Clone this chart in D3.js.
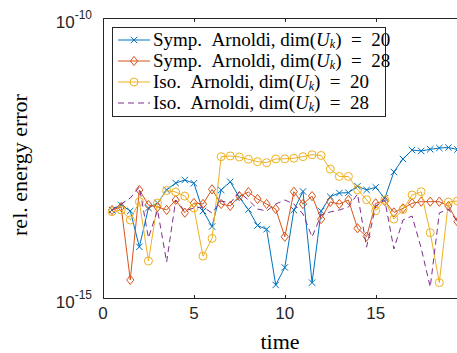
<!DOCTYPE html>
<html>
<head>
<meta charset="utf-8">
<script src="https://cdn.jsdelivr.net/npm/d3@7"></script>
<style>
  html, body { margin: 0; padding: 0; background: #fff; }
  svg { display: block; }
  .sans { font-family: 'Liberation Sans', Arial, Helvetica, sans-serif; }
  .serif { font-family: 'Liberation Serif', 'Times New Roman', 'DejaVu Serif', serif; }
</style>
</head>
<body>
<svg id="chart" width="457" height="353"></svg>
<script>
// Sample times
const time = [0.5, 1, 1.5, 2, 2.5, 3, 3.5, 4, 4.5, 5, 5.5, 6, 6.5, 7, 7.5, 8, 8.5, 9, 9.5, 10,
              10.5, 11, 11.5, 12, 12.5, 13, 13.5, 14, 14.5, 15, 15.5, 16, 16.5, 17, 17.5, 18, 18.5, 19, 19.5];

// Relative energy error per method
const sympArnoldi20 = [3.73e-14, 4.58e-14, 3.58e-14, 8.2e-15, 4.05e-14, 4.97e-14, 8.5e-14, 1.13e-13, 1.28e-13, 1.12e-13,
                       3.58e-14, 1.89e-14, 8.5e-14, 1.19e-13, 6.24e-14, 3.80e-14, 1.97e-14, 1.69e-14, 1.71e-15, 3.51e-15,
                       3.73e-14, 8.0e-14, 1.88e-15, 3.58e-14, 6.44e-14, 7.5e-14, 7.6e-14, 9.9e-14, 8.5e-14, 9.5e-14,
                       6.03e-14, 1.78e-13, 3.04e-13, 4.39e-13, 4.22e-13, 4.52e-13, 4.77e-13, 4.86e-13, 4.48e-13];
const sympArnoldi28 = [3.73e-14, 4.22e-14, 2.10e-15, 8.5e-14, 4.58e-14, 4.22e-14, 3.73e-14, 5.62e-14, 3.34e-14, 4.97e-14,
                       4.77e-14, 8.7e-14, 4.77e-14, 4.40e-14, 6.6e-14, 7.8e-14, 5.86e-14, 4.77e-14, 3.88e-14, 1.24e-14,
                       7.9e-14, 4.77e-14, 6.6e-14, 2.57e-14, 5.18e-14, 4.77e-14, 5.62e-14, 1.76e-14, 1.25e-14, 4.91e-14,
                       5.40e-14, 3.37e-14, 4.00e-14, 4.91e-14, 5.25e-14, 5.25e-14, 5.25e-14, 4.40e-14, 2.30e-14];
const isoArnoldi20  = [3.48e-14, 3.73e-14, 2.47e-14, 5.25e-14, 4.58e-15, 4.97e-14, 8.3e-14, 7.8e-14, 6.6e-14, 4.05e-14,
                       5.6e-15, 1.16e-14, 3.34e-13, 3.44e-13, 3.30e-13, 3.00e-13, 2.72e-13, 2.61e-13, 3.04e-13, 3.06e-13,
                       3.13e-13, 3.34e-13, 3.62e-13, 3.51e-13, 2.01e-13, 1.48e-13, 1.48e-13, 8.6e-14, 5.69e-14, 3.62e-14,
                       5.62e-14, 2.57e-14, 3.80e-14, 6.9e-14, 7.9e-14, 1.47e-14, 1.88e-15, 5.18e-14, 5.40e-14];
const isoArnoldi28  = [3.73e-14, 4.77e-14, 6.1e-14, 9.6e-14, 1.18e-14, 3.73e-14, 4.40e-15, 5.62e-14, 3.58e-14, 4.05e-14,
                       4.22e-14, 3.30e-14, 5.40e-14, 4.97e-14, 7.8e-14, 5.62e-14, 3.88e-14, 3.58e-14, 4.77e-14, 5.62e-14,
                       4.77e-14, 3.16e-14, 1.23e-14, 3.03e-14, 3.44e-14, 3.73e-14, 4.22e-14, 7.2e-14, 8.1e-15, 4.40e-14,
                       5.62e-14, 7.5e-15, 2.47e-14, 2.91e-14, 7.8e-15, 1.57e-15, 3.30e-14, 3.88e-14, 2.28e-14];

const xTicks = [0, 5, 10, 15];
const yTicks = [1e-15, 1e-10];
const yTickExponents = ["-15", "-10"];
const seriesNames = ["Symp.\u00a0\u00a0Arnoldi, dim(", "Symp.\u00a0\u00a0Arnoldi, dim(", "Iso.\u00a0\u00a0Arnoldi, dim(", "Iso.\u00a0\u00a0Arnoldi, dim("];
const seriesDims = ["20", "28", "20", "28"];

(function () {
  const series = [
    { values: sympArnoldi20, color: "#0072BD", marker: "x", dash: null },
    { values: sympArnoldi28, color: "#D95319", marker: "diamond", dash: null },
    { values: isoArnoldi20,  color: "#EDB120", marker: "circle", dash: null },
    { values: isoArnoldi28,  color: "#7E2F8E", marker: null, dash: "6,4" }
  ];

  const svg = d3.select("#chart");
  const L = 103, R = 457.5, T = 18, B = 298;
  const axisColor = "#262626";

  const x = d3.scaleLinear().domain([0, 19.5]).range([L, R]);
  const y = d3.scaleLog().domain([1e-15, 1e-10]).range([B, T]);

  // Frame
  svg.append("path")
    .attr("d", `M${L + 0.5},${T + 0.5}H${R}V${B + 0.5}H${L + 0.5}Z`)
    .attr("fill", "none").attr("stroke", axisColor).attr("stroke-width", 1);

  // Inward ticks on bottom and top
  const tickLen = 3.5;
  xTicks.forEach(t => {
    const px = Math.round(x(t)) + 0.5;
    svg.append("line").attr("x1", px).attr("x2", px).attr("y1", B + 0.5).attr("y2", B + 0.5 - tickLen)
      .attr("stroke", axisColor);
    svg.append("line").attr("x1", px).attr("x2", px).attr("y1", T + 0.5).attr("y2", T + 0.5 + tickLen)
      .attr("stroke", axisColor);
    svg.append("text").attr("class", "sans").attr("x", x(t)).attr("y", 319)
      .attr("text-anchor", "middle").style("font-size", "17px")
      .attr("fill", axisColor).text(t);
  });

  yTicks.forEach((v, i) => {
    const py = Math.round(y(v)) + 0.5;
    svg.append("line").attr("x1", L + 0.5).attr("x2", L + 0.5 + tickLen).attr("y1", py).attr("y2", py)
      .attr("stroke", axisColor);
    const t = svg.append("text").attr("class", "sans").attr("x", 92).attr("y", y(v) + 9.5)
      .attr("text-anchor", "end").style("font-size", "17px")
      .attr("fill", axisColor);
    t.append("tspan").text("10");
    t.append("tspan").attr("dy", -9).style("font-size", "12px").text(yTickExponents[i]);
  });

  // Axis labels
  svg.append("text").attr("class", "serif")
    .attr("transform", `translate(27,165) rotate(-90)`)
    .attr("text-anchor", "middle").style("font-size", "22px")
    .attr("fill", "#000").text("rel. energy error");
  svg.append("text").attr("class", "serif")
    .attr("x", (L + 457) / 2).attr("y", 349)
    .attr("text-anchor", "middle").style("font-size", "22px")
    .attr("fill", "#000").text("time");

  // Markers
  function drawMarker(g, type, cx, cy, color) {
    if (type === "x") {
      const s = 3.2;
      g.append("path").attr("d", `M${cx - s},${cy - s}L${cx + s},${cy + s}M${cx - s},${cy + s}L${cx + s},${cy - s}`)
        .attr("stroke", color).attr("stroke-width", 1).attr("fill", "none");
    } else if (type === "diamond") {
      const w = 3.6, h = 4.6;
      g.append("path").attr("d", `M${cx},${cy - h}L${cx + w},${cy}L${cx},${cy + h}L${cx - w},${cy}Z`)
        .attr("stroke", color).attr("stroke-width", 1).attr("fill", "none");
    } else if (type === "circle") {
      g.append("circle").attr("cx", cx).attr("cy", cy).attr("r", 4)
        .attr("stroke", color).attr("stroke-width", 1).attr("fill", "none");
    }
  }

  const plot = svg.append("g");
  const line = d3.line().x(d => x(d[0])).y(d => y(d[1]));

  series.forEach(s => {
    const pts = time.map((t, i) => [t, s.values[i]]);
    const g = plot.append("g");
    g.append("path").datum(pts).attr("d", line)
      .attr("fill", "none").attr("stroke", s.color).attr("stroke-width", 1)
      .attr("stroke-dasharray", s.dash);
    if (s.marker) pts.forEach(p => drawMarker(g, s.marker, x(p[0]), y(p[1]), s.color));
  });

  // Legend
  const lg = svg.append("g");
  lg.append("rect").attr("x", 112.5).attr("y", 27.5).attr("width", 273).attr("height", 89)
    .attr("fill", "#fff").attr("stroke", axisColor).attr("stroke-width", 1);
  const rowY = [40, 61, 82, 103];
  series.forEach((s, i) => {
    const yy = rowY[i];
    lg.append("line").attr("x1", 118).attr("x2", 150).attr("y1", yy).attr("y2", yy)
      .attr("stroke", s.color).attr("stroke-width", 1).attr("stroke-dasharray", s.dash);
    if (s.marker) drawMarker(lg, s.marker, 134, yy, s.color);
    const t = lg.append("text").attr("class", "serif").attr("x", 153).attr("y", yy + 6)
      .style("font-size", "19px").attr("fill", "#000");
    t.append("tspan").text(seriesNames[i]);
    t.append("tspan").style("font-style", "italic").text("U");
    t.append("tspan").style("font-style", "italic").style("font-size", "12px").attr("dy", 2).text("k");
    t.append("tspan").attr("dy", -2).text(")\u2002=\u2002" + seriesDims[i]);
  });
})();
</script>
</body>
</html>
